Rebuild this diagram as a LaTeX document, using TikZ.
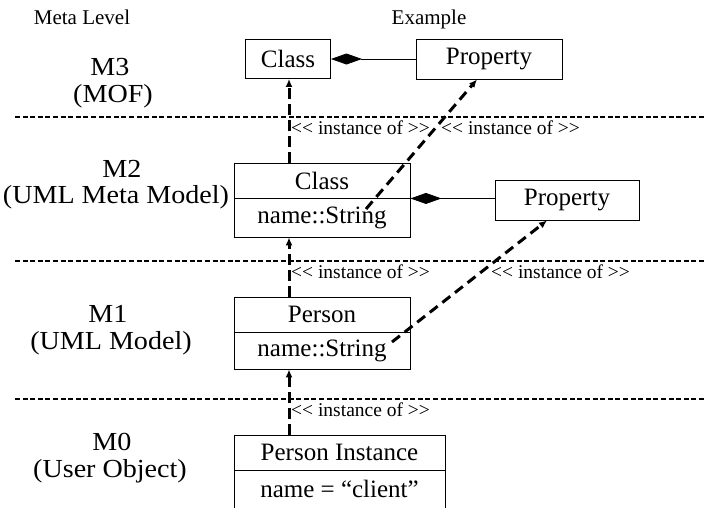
\documentclass[tikz,border=0pt]{standalone}
\usepackage{fontspec}
\setmainfont{Liberation Serif}
\newfontfamily\levelfont[FakeStretch=1.08]{Liberation Serif}
\usetikzlibrary{arrows.meta}
% stereotype label; the kerns keep << and >> from turning into guillemets
\newcommand\stereo{<\kern0pt<\ instance of >\kern0pt>}
\newcommand\mainsize{\fontsize{25}{27}\selectfont}
\newcommand\levelsize{\levelfont\fontsize{26}{28}\selectfont}
\newcommand\lblsize{\fontsize{19.5}{21}\selectfont}
\newcommand\headsize{\fontsize{21}{23}\selectfont}
\begin{document}
\begin{tikzpicture}[x=1pt,y=-1pt,
  box/.style={draw, line width=0.9pt, inner sep=0pt, font=\mainsize},
  level/.style={anchor=base, inner sep=0pt, font=\levelsize},
  attr/.style={anchor=base, inner sep=0pt, font=\mainsize},
  head/.style={anchor=base, inner sep=0pt, font=\headsize},
  lbl/.style={anchor=west, inner sep=0pt, font=\lblsize},
  layer/.style={line width=1.5pt, dash pattern=on 5pt off 2.6pt},
  inst/.style={line width=3pt, dash pattern=on 11pt off 5pt,
               -{Latex[length=8pt,width=7pt]}},
  comp/.style={line width=0.8pt, -{Diamond[length=31pt,width=11pt]}}]
\useasboundingbox (0,0) rectangle (706,507);
\clip (0,0) rectangle (706,507);

% column headings
\node[head] (hmeta) at (82,24) {Meta Level};
\node[head] (hex) at (429,24) {Example};

% meta level names
\node[level] (m3) at (110,75) {M3};
\node[level] (m3n) at (113,102) {(MOF)};
\node[level] (m2) at (122,177) {M2};
\node[level] (m2n) at (116,203) {(UML Meta Model)};
\node[level] (m1) at (108,322) {M1};
\node[level] (m1n) at (111,349) {(UML Model)};
\node[level] (m0) at (112,450) {M0};
\node[level] (m0n) at (110,477) {(User Object)};

% level separators
\coordinate (s3a) at (15,117);  \coordinate (s3b) at (706,117);
\coordinate (s2a) at (15,261);  \coordinate (s2b) at (706,261);
\coordinate (s1a) at (15,399);  \coordinate (s1b) at (706,399);
\draw[layer] (s3a) -- (s3b);
\draw[layer] (s2a) -- (s2b);
\draw[layer] (s1a) -- (s1b);

% M3
\node[box, minimum width=85, minimum height=39] (classA) at (288,59) {Class};
\node[box, minimum width=146, minimum height=40] (propA) at (489,59) {Property};
% M2
\node[box, minimum width=176, minimum height=35] (classT) at (322,180.5) {Class};
\node[box, minimum width=176, minimum height=39] (classB) at (322,217.5) {name::String};
\node[box, minimum width=144, minimum height=40] (propB) at (567,200) {Property};
% M1
\node[box, minimum width=176, minimum height=35] (perT) at (322,314.5) {Person};
\node[box, minimum width=176, minimum height=37] (perB) at (322,350.5) {name::String};
% M0
\node[box, minimum width=211, minimum height=35] (instT) at (339.5,452.5) {Person Instance};
\node[box, minimum width=211, minimum height=50] (instB) at (339.5,495) {};
\node[attr] (instAttr) at (339.5,497) {name = “client”};

% compositions
\draw[comp] (propA.west) -- (classA.east);
\draw[comp] (propB.west |- classT.south east) -- (classT.south east);

% instance-of relations
\coordinate (axis) at (289,0);
\draw[inst] (axis |- instT.north) -- (axis |- perB.south);
\draw[inst] (axis |- perT.north) -- (axis |- classB.south);
\draw[inst] (axis |- classT.north) -- (axis |- classA.south);
\coordinate (src1) at (366,209);
\coordinate (src2) at (392,342);
\draw[inst, dash pattern=on 10pt off 6pt] (src1) -- ([xshift=-12pt]propA.south);
\draw[inst, dash pattern=on 10pt off 6pt] (src2) -- ([xshift=-20pt]propB.south);

% relation labels
\node[lbl] (i3a) at (291,128) {\stereo};
\node[lbl] (i3b) at (441,128) {\stereo};
\node[lbl] (i2a) at (291,272) {\stereo};
\node[lbl] (i2b) at (491,272) {\stereo};
\node[lbl] (i1) at (291,410) {\stereo};
\end{tikzpicture}
\end{document}
